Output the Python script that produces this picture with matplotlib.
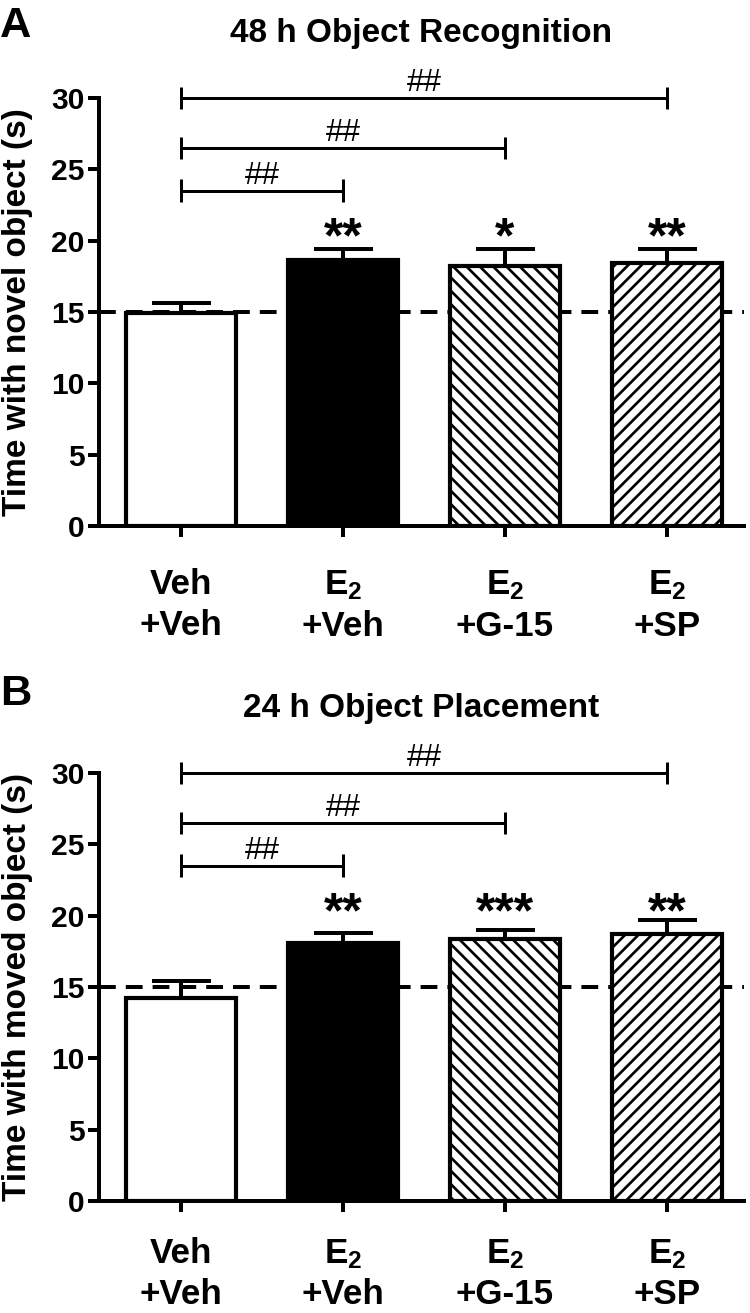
import numpy as np
import matplotlib.pyplot as plt

plt.rcParams['font.family'] = ['Liberation Sans', 'DejaVu Sans']
plt.rcParams['font.weight'] = 'bold'
plt.rcParams['mathtext.default'] = 'regular'
plt.rcParams['hatch.linewidth'] = 1.6

groups = ['Veh\n+Veh', 'E$_2$\n+Veh', 'E$_2$\n+G-15', 'E$_2$\n+SP']
fills = ['white', 'black', 'white', 'white']
hatches = ['', '', '\\\\\\', '///']

# 48 h object recognition
recog_mean = [14.9, 18.65, 18.2, 18.4]
recog_sem = [0.7, 0.8, 1.25, 1.05]
recog_stars = ['', '**', '*', '**']

# 24 h object placement
place_mean = [14.2, 18.1, 18.35, 18.75]
place_sem = [1.25, 0.7, 0.63, 0.97]
place_stars = ['', '**', '***', '**']

# comparisons against Veh+Veh: (from, to, height)
brackets = [(0, 1, 23.5), (0, 2, 26.5), (0, 3, 30.0)]

W, H, DPI = 750, 1313, 120
fig = plt.figure(figsize=(W / DPI, H / DPI), dpi=DPI)


def panel(top, bottom, means, sems, stars, title, ylabel, letter, letter_y, xpad):
    ax = fig.add_axes([99 / W, 1 - bottom / H, 645 / W, (bottom - top) / H])
    x = np.arange(len(groups))
    ax.axhline(15, color='k', lw=2.4, ls=(0, (4.2, 2.5)), zorder=1)
    bars = ax.bar(x, means, width=0.68, color=fills, edgecolor='k',
                  linewidth=2.5, zorder=2)
    for b, h in zip(bars, hatches):
        b.set_hatch(h)
    ax.errorbar(x, means, yerr=[np.zeros(len(sems)), sems], fmt='none',
                ecolor='k', elinewidth=2.4, capsize=17.7, capthick=2.4, zorder=3)
    for xi, s in zip(x, stars):
        if s:
            ax.text(xi, 19.2, s, ha='center', va='baseline', fontsize=30,
                    fontweight='bold')
    for i, j, h in brackets:
        ax.plot([i, j], [h, h], color='k', lw=1.8, clip_on=False,
                solid_capstyle='butt')
        for e in (i, j):
            ax.plot([e, e], [h - 0.8, h + 0.8], color='k', lw=1.8,
                    clip_on=False, solid_capstyle='butt')
        ax.text((i + j) / 2, h + 0.5, '##', ha='center', va='baseline',
                fontsize=19, fontweight='normal')

    ax.set_xlim(-0.506, 3.475)
    ax.set_ylim(0, 30)
    ax.set_yticks(range(0, 31, 5))
    ax.set_xticks(x)
    ax.set_xticklabels(groups, fontsize=21, linespacing=1.3)
    ax.tick_params(axis='both', width=2.4, length=6.5, direction='out')
    ax.tick_params(axis='y', labelsize=18, pad=2)
    ax.tick_params(axis='x', pad=xpad)
    for s in ('top', 'right'):
        ax.spines[s].set_visible(False)
    for s in ('left', 'bottom'):
        ax.spines[s].set_linewidth(2.4)
    ax.text(0.5, 1 + 56 / (bottom - top), title, transform=ax.transAxes,
            ha='center', va='baseline', fontsize=20, fontweight='bold')
    fig.text(18 / W, 1 - (top + bottom) / 2 / H, ylabel, rotation=90,
             ha='center', va='center', fontsize=20, fontweight='bold')
    fig.text(0, 1 - letter_y / H, letter, ha='left', va='baseline',
             fontsize=26, fontweight='bold')
    return ax


panel(98, 526, recog_mean, recog_sem, recog_stars, '48 h Object Recognition',
      'Time with novel object (s)', 'A', 37, 19)
panel(773, 1201, place_mean, place_sem, place_stars, '24 h Object Placement',
      'Time with moved object (s)', 'B', 705, 15)

fig.savefig('out.png', dpi=DPI)
